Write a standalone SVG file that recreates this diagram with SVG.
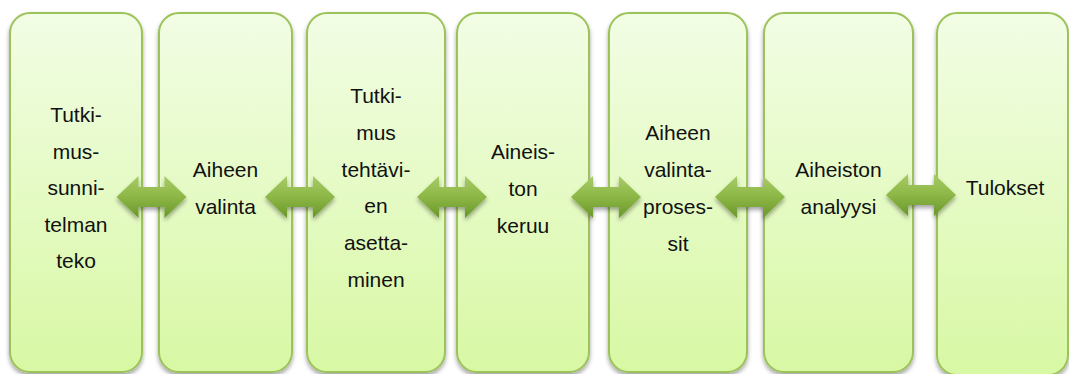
<svg xmlns="http://www.w3.org/2000/svg" xmlns:xlink="http://www.w3.org/1999/xlink" width="1069" height="374" viewBox="0 0 1069 374">
<defs>
<linearGradient id="boxg" x1="0" y1="0" x2="0" y2="1">
<stop offset="0" stop-color="#f2fde5"/>
<stop offset="1" stop-color="#d8f8a4"/>
</linearGradient>
<linearGradient id="arrg" x1="0" y1="0" x2="0" y2="1">
<stop offset="0" stop-color="#a8cb66"/>
<stop offset="0.5" stop-color="#8cb746"/>
<stop offset="1" stop-color="#6a972a"/>
</linearGradient>
<filter id="sh" x="-10%" y="-10%" width="120%" height="130%">
<feDropShadow dx="0" dy="3" stdDeviation="2" flood-color="#000" flood-opacity="0.35"/>
</filter>
<path id="arr" d="M-35,0 L-13,-21 L-13,-10 L13,-10 L13,-21 L35,0 L13,21 L13,10 L-13,10 L-13,21 Z"/>
</defs>
<style>
.box{fill:url(#boxg);stroke:#9cc25a;stroke-width:2;filter:url(#sh)}
.t{font-family:"Liberation Sans",Arial,sans-serif;font-size:21px;fill:#111;text-anchor:middle}
.a{fill:url(#arrg);filter:url(#sh)}
</style>
<rect width="1069" height="374" fill="#fff"/>
<g id="n1"><rect class="box" x="10" y="13" width="132" height="359" rx="20"/>
<text class="t"><tspan x="76" y="122">Tutki-</tspan><tspan x="76" y="158.5">mus-</tspan><tspan x="76" y="195">sunni-</tspan><tspan x="76" y="231.5">telman</tspan><tspan x="76" y="268">teko</tspan></text></g>
<g id="n2"><rect class="box" x="159" y="13" width="133" height="359" rx="20"/>
<text class="t"><tspan x="225.5" y="177">Aiheen</tspan><tspan x="225.5" y="213.5">valinta</tspan></text></g>
<g id="n3"><rect class="box" x="307" y="13" width="138" height="359" rx="20"/>
<text class="t"><tspan x="376" y="103">Tutki-</tspan><tspan x="376" y="139.8">mus</tspan><tspan x="376" y="176.6">tehtävi-</tspan><tspan x="376" y="213.4">en</tspan><tspan x="376" y="250.2">asetta-</tspan><tspan x="376" y="287">minen</tspan></text></g>
<g id="n4"><rect class="box" x="457" y="13" width="132" height="359" rx="20"/>
<text class="t"><tspan x="523" y="159">Aineis-</tspan><tspan x="523" y="196">ton</tspan><tspan x="523" y="233">keruu</tspan></text></g>
<g id="n5"><rect class="box" x="609" y="13" width="138" height="359" rx="20"/>
<text class="t"><tspan x="678" y="140">Aiheen</tspan><tspan x="678" y="177">valinta-</tspan><tspan x="678" y="213.5">proses-</tspan><tspan x="678" y="250.5">sit</tspan></text></g>
<g id="n6"><rect class="box" x="764" y="13" width="149" height="359" rx="20"/>
<text class="t"><tspan x="838.5" y="177">Aiheiston</tspan><tspan x="838.5" y="213.5">analyysi</tspan></text></g>
<g id="n7"><rect class="box" x="937" y="13" width="131" height="362" rx="20"/>
<text class="t"><tspan x="1005" y="195">Tulokset</tspan></text></g>
<g id="connectors">
<use class="a" xlink:href="#arr" x="151.5" y="197"/>
<use class="a" xlink:href="#arr" x="300" y="197"/>
<use class="a" xlink:href="#arr" x="452" y="197"/>
<use class="a" xlink:href="#arr" x="606" y="197"/>
<use class="a" xlink:href="#arr" x="750" y="197"/>
<use class="a" xlink:href="#arr" x="921" y="195"/>
</g>
</svg>
